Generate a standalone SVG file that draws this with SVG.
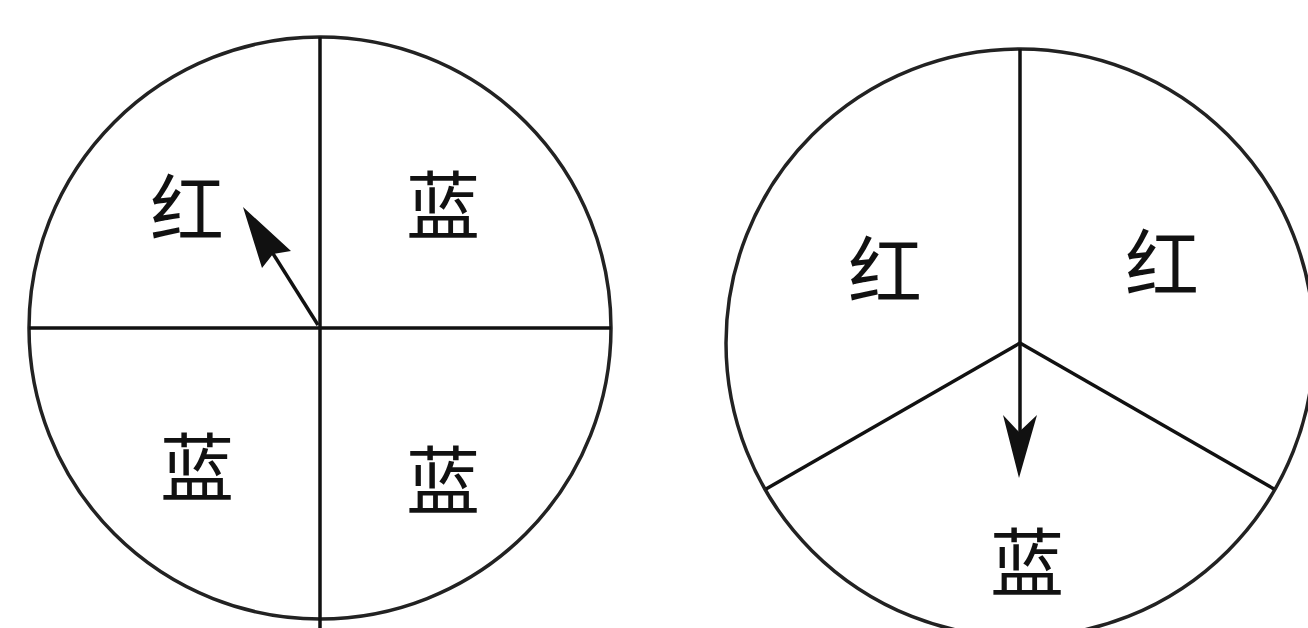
<svg xmlns="http://www.w3.org/2000/svg" width="1308" height="628" viewBox="0 0 1308 628">
<style>
.ring{fill:none;stroke:#222;stroke-width:3.5}
.div{stroke:#111;stroke-width:3.5;fill:none}
.ptr{stroke:#111;stroke-width:3.5;fill:none}
.head{fill:#111;stroke:none}
.lbl{font-family:"Noto Sans CJK SC","Noto Sans CJK TC",sans-serif;font-size:74px;fill:#111;text-anchor:middle;dominant-baseline:central}
</style>
<rect width="1308" height="628" fill="#fff"/>
<g id="spinner-left">
<circle class="ring" cx="320" cy="328" r="291"/>
<line class="div" x1="320" y1="37" x2="320" y2="628"/>
<line class="div" x1="29" y1="328" x2="611" y2="328"/>
<text class="lbl" x="187" y="203">红</text>
<text class="lbl" x="443" y="200">蓝</text>
<text class="lbl" x="197" y="462">蓝</text>
<text class="lbl" x="443" y="475">蓝</text>
</g>
<g id="spinner-right">
<circle class="ring" cx="1020" cy="343" r="294"/>
<line class="div" x1="1020" y1="49" x2="1020" y2="343"/>
<line class="div" x1="1020" y1="343" x2="766" y2="489"/>
<line class="div" x1="1020" y1="343" x2="1274" y2="489"/>
<text class="lbl" x="885" y="265">红</text>
<text class="lbl" x="1162" y="258">红</text>
<text class="lbl" x="1027" y="557">蓝</text>
</g>
<g id="connectors">
<line class="ptr" x1="318" y1="325" x2="272" y2="252"/>
<polygon class="head" points="243,207 291,251 273,254 262,268"/>
<line class="ptr" x1="1020" y1="343" x2="1020" y2="440"/>
<polygon class="head" points="1019,478 1003,415 1019,432 1037,415"/>
</g>
</svg>
